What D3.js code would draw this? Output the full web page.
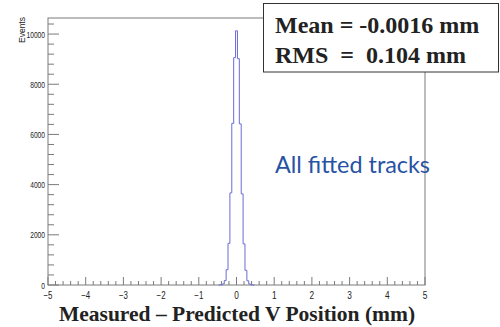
<!DOCTYPE html>
<html>
<head>
<meta charset="utf-8">
<script src="https://cdn.jsdelivr.net/npm/d3@7"></script>
<style>
  body { margin: 0; background: #fff; }
  svg { display: block; }
</style>
</head>
<body>
<div id="chart"></div>
<script>
// histogram bins (centre in mm) and counts
var binCenters = [-0.45, -0.40, -0.35, -0.30, -0.25, -0.20, -0.15, -0.10, -0.05, 0.00,
                  0.05, 0.10, 0.15, 0.20, 0.25, 0.30, 0.35, 0.40, 0.45];
var counts = [2, 8, 42, 175, 610, 1660, 3670, 6440, 9060, 10130,
              9020, 6420, 3630, 1640, 585, 168, 38, 7, 1];
var binWidth = 0.05;

var xTicks = [-5, -4, -3, -2, -1, 0, 1, 2, 3, 4, 5];
var yTicks = [0, 2000, 4000, 6000, 8000, 10000];
var statLines = ["Mean = -0.0016 mm", "RMS  =  0.104 mm"];

var W = 500, H = 327;
var margin = {top: 18, right: 75, bottom: 42, left: 48};
var width = W - margin.left - margin.right,
    height = H - margin.top - margin.bottom;

var svg = d3.select("#chart").append("svg")
  .attr("width", W).attr("height", H);

var g = svg.append("g")
  .attr("transform", "translate(" + margin.left + "," + margin.top + ")");

var x = d3.scaleLinear().domain([-5, 5]).range([0, width]);
var y = d3.scaleLinear().domain([0, 10640]).range([height, 0]);

var frameColor = "#7a7a7a";
var labelFont = "Liberation Sans, Arial, sans-serif";

// frame
g.append("rect")
  .attr("x", 0).attr("y", 0)
  .attr("width", width).attr("height", height)
  .attr("fill", "none")
  .attr("stroke", frameColor).attr("stroke-width", 1);

// x ticks (inside, major + minor)
var xMinor = d3.range(-5, 5.001, 0.2);
g.selectAll(".xminor").data(xMinor).enter().append("line")
  .attr("x1", function(d) { return x(d); }).attr("x2", function(d) { return x(d); })
  .attr("y1", height).attr("y2", function(d) {
    return Math.abs(d - Math.round(d)) < 1e-6 ? height - 8 : height - 4;
  })
  .attr("stroke", frameColor);

g.selectAll(".xlab").data(xTicks).enter().append("text")
  .attr("x", function(d) { return x(d); })
  .attr("y", height + 13.5)
  .attr("text-anchor", "middle")
  .attr("font-family", labelFont)
  .attr("font-size", 10)
  .attr("fill", "#222")
  .attr("textLength", function(d) { return d < 0 ? 9 : 4.6; })
  .attr("lengthAdjust", "spacingAndGlyphs")
  .text(function(d) { return d < 0 ? "\u2212" + (-d) : d; });

// y ticks
var yMinor = d3.range(0, 10401, 400);
g.selectAll(".yminor").data(yMinor).enter().append("line")
  .attr("x1", 0).attr("x2", function(d) { return d % 2000 === 0 ? 11 : 6; })
  .attr("y1", function(d) { return y(d); }).attr("y2", function(d) { return y(d); })
  .attr("stroke", frameColor);

g.selectAll(".ylab").data(yTicks).enter().append("text")
  .attr("x", -3)
  .attr("y", function(d) { return y(d) + 3.5; })
  .attr("text-anchor", "end")
  .attr("font-family", labelFont)
  .attr("font-size", 9.5)
  .attr("fill", "#222")
  .attr("textLength", function(d) { return String(d).length * 3.7; })
  .attr("lengthAdjust", "spacingAndGlyphs")
  .text(function(d) { return d; });

// y title
svg.append("text")
  .attr("transform", "translate(24.5,17) rotate(-90)")
  .attr("text-anchor", "end")
  .attr("font-family", labelFont)
  .attr("font-size", 8.5)
  .attr("fill", "#222")
  .text("Events");

// histogram step line
var pts = [[binCenters[0] - binWidth / 2, 0]];
binCenters.forEach(function(c, i) { pts.push([c - binWidth / 2, counts[i]]); });
pts.push([binCenters[binCenters.length - 1] + binWidth / 2, 0]);

var line = d3.line()
  .x(function(d) { return x(d[0]); })
  .y(function(d) { return y(d[1]); })
  .curve(d3.curveStepAfter);

g.append("path")
  .datum(pts)
  .attr("d", line)
  .attr("fill", "none")
  .attr("stroke", "#6b6bd6")
  .attr("stroke-width", 1);

// stats box
svg.append("rect")
  .attr("x", 263.5).attr("y", 3.5)
  .attr("width", 235).attr("height", 68.5)
  .attr("fill", "#fff")
  .attr("stroke", "#333").attr("stroke-width", 1);

svg.selectAll(".stat").data(statLines).enter().append("text")
  .attr("x", 275)
  .attr("y", function(d, i) { return 33 + i * 30; })
  .attr("font-family", "Liberation Serif, Times New Roman, serif")
  .attr("font-weight", "bold")
  .attr("font-size", 24)
  .attr("fill", "#222")
  .attr("xml:space", "preserve")
  .style("white-space", "pre")
  .text(function(d) { return d; });

// annotation
svg.append("text")
  .attr("x", 275).attr("y", 173)
  .attr("font-family", "Lato, Open Sans, sans-serif")
  .attr("font-size", 23.5)
  .attr("fill", "#2852a3")
  .attr("textLength", 155)
  .attr("lengthAdjust", "spacingAndGlyphs")
  .text("All fitted tracks");

// x title
svg.append("text")
  .attr("x", 237).attr("y", 321)
  .attr("text-anchor", "middle")
  .attr("font-family", "Liberation Serif, Times New Roman, serif")
  .attr("font-weight", "bold")
  .attr("font-size", 21.5)
  .attr("fill", "#222")
  .text("Measured \u2013 Predicted V Position (mm)");
</script>
</body>
</html>
